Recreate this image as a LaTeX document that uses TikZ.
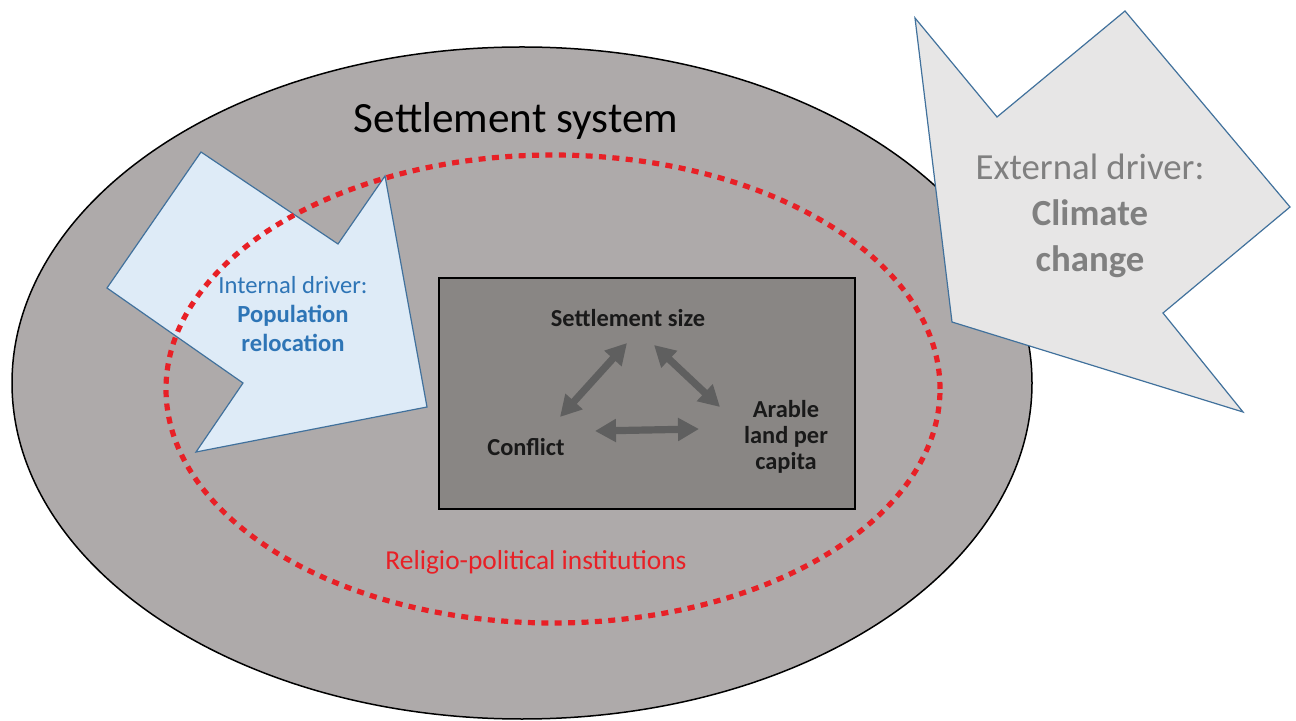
\documentclass[tikz,border=0pt]{standalone}
\usepackage{fontspec}
\setmainfont{Carlito}
\usetikzlibrary{arrows.meta}

\definecolor{sysgrey}{RGB}{174,170,170}
\definecolor{coregrey}{RGB}{137,134,132}
\definecolor{instred}{RGB}{232,32,38}
\definecolor{intblue}{RGB}{46,117,182}
\definecolor{intfill}{RGB}{222,235,247}
\definecolor{extfill}{RGB}{231,230,230}
\definecolor{edgeblue}{RGB}{65,113,156}
\definecolor{extgrey}{RGB}{128,128,128}
\definecolor{linkgrey}{RGB}{95,95,95}

\tikzset{
  factor/.style={font=\bfseries\fontsize{12.2}{13}\selectfont, align=center, text=black!90},
  twoway/.style={linkgrey, line width=3.6pt, {Triangle[length=10.5pt,width=11pt]}-{Triangle[length=10.5pt,width=11pt]}},
  driver/.style={draw=edgeblue, line width=0.6pt, line join=miter},
}

\begin{document}
\begin{tikzpicture}[x=0.5pt, y=-0.5pt]
    \useasboundingbox (0,0) rectangle (1296,721);
    % settlement system
    \draw[fill=sysgrey, line width=0.75pt] (522,383) ellipse [x radius=255pt, y radius=168pt];
    \node[font=\fontsize{21.6}{24}\selectfont, anchor=base] (system) at (516,133) {Settlement system};
    % internal driver
    \filldraw[driver, fill=intfill] (201,152) -- (338,244) -- (385,176) -- (427,407) -- (196,452) -- (243,383) -- (107,288) -- cycle;
    % institutions
    \draw[instred, line width=2.6pt, dash pattern=on 3.5pt off 3.2pt] (553,389) ellipse [x radius=193.5pt, y radius=117pt];
    \node[font=\fontsize{13.7}{16}\selectfont, text=instred, anchor=base] (inst) at (536,569) {Religio-political institutions};
    \node[font=\fontsize{12.3}{14.5}\selectfont, text=intblue, align=center] (internal) at (293,314)
        {Internal driver:\\\textbf{Population}\\\textbf{relocation}};
    % core feedbacks
    \node[draw, line width=0.6pt, fill=coregrey, minimum width=208pt, minimum height=115.5pt] (core) at (647,393.5) {};
    \node[factor] (setsize) at (628,318) {Settlement size};
    \node[factor] (conflict) at (526,447) {Conflict};
    \node[factor] (arable) at (786,437) {Arable\\land per\\capita};
    \draw[twoway] ([shift={(34,-30)}]conflict.center) -- ([shift={(-1,25)}]setsize.center);
    \draw[twoway] ([shift={(26,27)}]setsize.center) -- ([shift={(-66,-30)}]arable.center);
    \draw[twoway] ([shift={(69,-16)}]conflict.center) -- ([shift={(-87,-8)}]arable.center);
    % external driver
    \filldraw[driver, fill=extfill] (915,18) -- (997,117) -- (1125,11) -- (1290,207) -- (1163,313) -- (1243,412) -- (952,322) -- cycle;
    \node[font=\fontsize{18.4}{23}\selectfont, text=extgrey, align=center] (external) at (1090,216)
        {External driver:\\\textbf{Climate}\\\textbf{change}};
\end{tikzpicture}
\end{document}
